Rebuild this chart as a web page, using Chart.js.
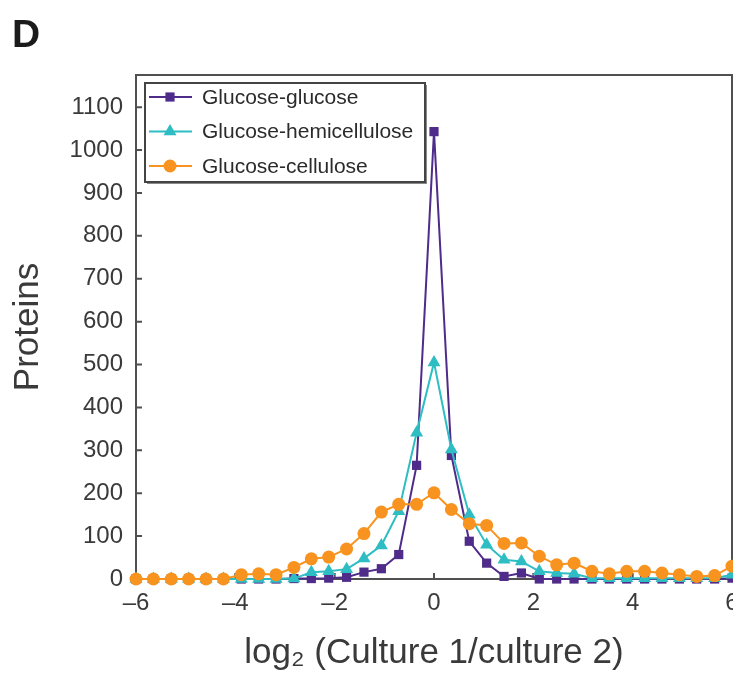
<!DOCTYPE html>
<html>
<head>
<meta charset="utf-8">
<title>Proteins</title>
<script src="https://cdn.jsdelivr.net/npm/chart.js@4.4.1/dist/chart.umd.min.js"></script>
<style>
  body { margin: 0; background: #fff; }
  #wrap { position: relative; width: 733px; height: 683px; }
  #panel { position: absolute; left: 12px; top: 12px; line-height: 39px; font: bold 39px "Liberation Sans", Arial, sans-serif; color: #1b1b1b; }
</style>
</head>
<body>
<div id="wrap">
  <canvas id="myChart" width="733" height="683"></canvas>
  <div id="panel">D</div>
</div>
<script>
// bin centres on the log2 axis
var binCenters = [-6, -5.65, -5.29, -4.94, -4.59, -4.24, -3.88, -3.53, -3.18, -2.82, -2.47, -2.12,
  -1.76, -1.41, -1.06, -0.71, -0.35, 0, 0.35, 0.71, 1.06, 1.41, 1.76, 2.12, 2.47, 2.82,
  3.18, 3.53, 3.88, 4.24, 4.59, 4.94, 5.29, 5.65, 6];

var seriesNames = ["Glucose-glucose", "Glucose-hemicellulose", "Glucose-cellulose"];

var glucoseGlucose = [0, 0, 0, 0, 0, 0, 0, 0, 0, 1, 1, 2,
  4, 16, 24, 57, 265, 1043, 288, 88, 37, 6, 14, 0, 0, 0,
  0, 0, 0, 0, 0, 0, 0, 0, 2];

var glucoseHemicellulose = [0, 0, 0, 0, 0, 0, 0, 0, 0, 1, 16, 18,
  23, 48, 78, 158, 341, 505, 302, 150, 80, 45, 41, 18, 14, 12,
  2, 2, 2, 2, 2, 2, 2, 2, 10];

var glucoseCellulose = [0, 0, 0, 0, 0, 0, 10, 12, 10, 27, 47, 51,
  70, 106, 156, 174, 174, 201, 162, 129, 125, 83, 84, 53, 33, 37,
  18, 12, 18, 18, 14, 10, 6, 8, 30];

var xTicks = [-6, -4, -2, 0, 2, 4, 6];
var yTicks = [0, 100, 200, 300, 400, 500, 600, 700, 800, 900, 1000, 1100];

var FONT = "'Liberation Sans', Arial, sans-serif";

function toPoints(values) {
  return binCenters.map(function(x, i) {
    return { x: x, y: values[i] };
  });
}

// box round the plot, with inward tick marks
var frame = {
  id: "frame",
  beforeDatasetsDraw: function(chart) {
    var a = chart.chartArea;
    var ctx = chart.ctx;
    var xs = chart.scales.x;
    var ys = chart.scales.y;
    ctx.save();
    ctx.strokeStyle = "#505050";
    ctx.lineWidth = 2;
    ctx.strokeRect(a.left, a.top, a.right - a.left, a.bottom - a.top);
    ctx.beginPath();
    yTicks.forEach(function(v) {
      var y = ys.getPixelForValue(v);
      ctx.moveTo(a.left, y);
      ctx.lineTo(a.left + 6, y);
    });
    xTicks.forEach(function(v) {
      var x = xs.getPixelForValue(v);
      ctx.moveTo(x, a.bottom);
      ctx.lineTo(x, a.bottom - 6);
    });
    ctx.stroke();
    ctx.restore();
  }
};

// legend box in the top left corner of the plot
var legendBox = {
  id: "legendBox",
  afterDatasetsDraw: function(chart) {
    var ctx = chart.ctx;
    var left = chart.chartArea.left + 9;
    var top = chart.chartArea.top + 8;
    ctx.save();
    ctx.fillStyle = "#8a8a8a";
    ctx.fillRect(left + 2, top + 2, 280, 99);
    ctx.fillStyle = "#fff";
    ctx.fillRect(left, top, 280, 99);
    ctx.strokeStyle = "#444";
    ctx.lineWidth = 2;
    ctx.strokeRect(left, top, 280, 99);

    var order = [2, 1, 0];
    order.forEach(function(dsIndex, row) {
      var ds = chart.data.datasets[dsIndex];
      var y = top + 14 + row * 34.5;
      ctx.strokeStyle = ds.borderColor;
      ctx.lineWidth = 2;
      ctx.beginPath();
      ctx.moveTo(left + 4, y);
      ctx.lineTo(left + 47, y);
      ctx.stroke();
      ctx.fillStyle = ds.backgroundColor;
      Chart.helpers.drawPoint(ctx, { pointStyle: ds.pointStyle, radius: ds.pointRadius, borderWidth: 0 }, left + 25, y);
      ctx.fillStyle = "#2b2b2b";
      ctx.font = "21px " + FONT;
      ctx.textBaseline = "middle";
      ctx.fillText(ds.label, left + 57, y + 1);
    });
    ctx.restore();
  }
};

var ctx = document.getElementById("myChart");

var chartData = {
  datasets: [
    {
      label: seriesNames[2],
      data: toPoints(glucoseCellulose),
      borderColor: "#f7931e",
      backgroundColor: "#f7931e",
      pointStyle: "circle",
      pointRadius: 6.5,
      order: 0
    },
    {
      label: seriesNames[1],
      data: toPoints(glucoseHemicellulose),
      borderColor: "#2dbdc3",
      backgroundColor: "#2dbdc3",
      pointStyle: "triangle",
      pointRadius: 7.5,
      order: 1
    },
    {
      label: seriesNames[0],
      data: toPoints(glucoseGlucose),
      borderColor: "#4f2b8a",
      backgroundColor: "#4f2b8a",
      pointStyle: "rect",
      pointRadius: 6.5,
      order: 2
    }
  ]
};

chartData.datasets.forEach(function(ds) {
  ds.borderWidth = 2;
  ds.pointBorderWidth = 0;
  ds.tension = 0;
  ds.clip = false;
});

var options = {
  responsive: false,
  animation: false,
  layout: { autoPadding: false, padding: { top: 75, right: 1, left: 0, bottom: 0 } },
  plugins: {
    legend: { display: false },
    tooltip: { enabled: false }
  },
  scales: {
    x: {
      type: "linear",
      min: -6,
      max: 6,
      afterBuildTicks: function(s) {
        s.ticks = xTicks.map(function(v) { return { value: v }; });
      },
      afterFit: function(s) {
        s.height = 104;
        s.paddingLeft = 0;
        s.paddingRight = 0;
      },
      grid: { display: false, drawTicks: false },
      border: { display: false },
      ticks: {
        padding: 10,
        color: "#3a3a3a",
        maxRotation: 0,
        autoSkip: false,
        font: { size: 24, family: FONT },
        callback: function(v) { return v < 0 ? "\u2013" + (-v) : String(v); }
      },
      title: {
        display: true,
        text: "log\u2082 (Culture 1/culture 2)",
        color: "#3a3a3a",
        font: { size: 35, family: FONT },
        padding: { top: 0, bottom: 9 }
      }
    },
    y: {
      type: "linear",
      min: 0,
      max: 1175,
      afterBuildTicks: function(s) {
        s.ticks = yTicks.map(function(v) { return { value: v }; });
      },
      afterFit: function(s) {
        s.width = 136;
        s.paddingTop = 0;
        s.paddingBottom = 0;
      },
      grid: { display: false, drawTicks: false },
      border: { display: false },
      ticks: {
        padding: 13,
        color: "#3a3a3a",
        font: { size: 24, family: FONT },
        callback: function(v) { return String(v); }
      },
      title: {
        display: true,
        text: "Proteins",
        color: "#3a3a3a",
        font: { size: 35, family: FONT },
        padding: { top: 7, bottom: 0 }
      }
    }
  }
};

var chart = new Chart(ctx, {
  type: "line",
  data: chartData,
  options: options,
  plugins: [frame, legendBox]
});
</script>
</body>
</html>
